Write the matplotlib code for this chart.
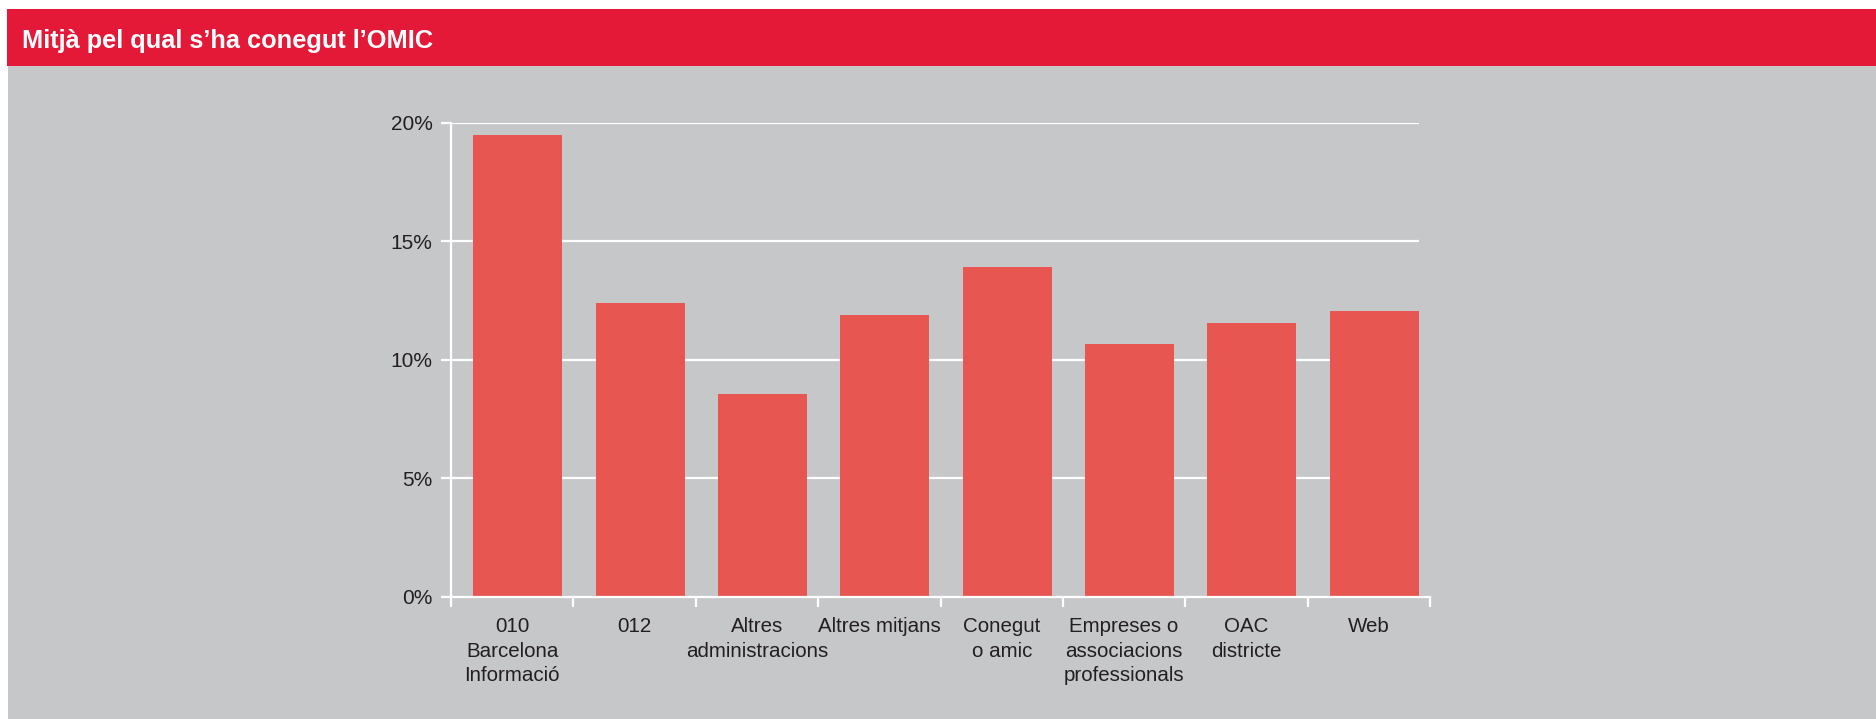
import matplotlib
matplotlib.use("Agg")
import matplotlib.pyplot as plt
from matplotlib.patches import Rectangle
import numpy as np

plt.rcParams['font.family'] = ['Liberation Sans', 'DejaVu Sans']

# ---- data ----
title = "Mitjà pel qual s’ha conegut l’OMIC"
categories = ["010\nBarcelona\nInformació", "012", "Altres\nadministracions",
              "Altres mitjans", "Conegut\no amic", "Empreses o\nassociacions\nprofessionals",
              "OAC\ndistricte", "Web"]
values = [19.5, 12.4, 8.55, 11.9, 13.9, 10.65, 11.55, 12.05]
yticks = [0, 5, 10, 15, 20]
ytick_labels = ["0%", "5%", "10%", "15%", "20%"]

# ---- style ----
W, H = 1876, 719
DPI = 100
BAR = "#E85652"
GRAY = "#C6C7C9"
RED = "#E31937"
TXT = "#231F20"
WHITE = "#FFFFFF"

fig = plt.figure(figsize=(W / DPI, H / DPI), dpi=DPI, facecolor="white")

def fx(px):
    return px / W

def fy(py):
    return 1 - py / H

# background axes for panel and title bar
bg = fig.add_axes([0, 0, 1, 1], zorder=0)
bg.set_xlim(0, 1)
bg.set_ylim(0, 1)
bg.axis("off")
bg.add_patch(Rectangle((fx(8), 0), 1 - fx(8), fy(66), facecolor=GRAY, edgecolor="none"))
bg.add_patch(Rectangle((fx(7), fy(66)), 1 - fx(7), fy(9) - fy(66), facecolor=RED, edgecolor="none"))
bg.text(fx(22), fy(48), title, color="white", fontsize=18.3, fontweight="bold",
        ha="left", va="baseline")

left, right = 451, 1430
top, bottom = 122.7, 596.7
ax = fig.add_axes([fx(left), fy(bottom), fx(right) - fx(left), fy(top) - fy(bottom)], zorder=2)
ax.set_facecolor("none")

n = len(values)
x = np.arange(n)
shift = 0.045
width = 0.727
ax.bar(x + shift, values, width=width, color=BAR, zorder=3)

ax.set_xlim(-0.5, n - 0.5)
ax.set_ylim(0, 20)

# gridlines
ax.hlines(yticks[1:], -0.5, n - 1 + shift + width / 2, colors=WHITE, linewidth=1.6, zorder=1)

# spines
for s in ["top", "right"]:
    ax.spines[s].set_visible(False)
for s in ["left", "bottom"]:
    ax.spines[s].set_color(WHITE)
    ax.spines[s].set_linewidth(1.6)
    ax.spines[s].set_zorder(4)

ax.set_yticks(yticks)
ax.set_yticklabels(ytick_labels)
ax.tick_params(axis="y", direction="out", length=7.2, width=1.6, color=WHITE,
               labelsize=15, labelcolor=TXT, pad=6)

ax.set_xticks(x)
ax.set_xticklabels(categories, linespacing=1.38)
ax.set_xticks(np.arange(n + 1) - 0.5, minor=True)
ax.tick_params(axis="x", which="major", length=0, labelsize=14.8, labelcolor=TXT, pad=14.5)
ax.tick_params(axis="x", which="minor", direction="out", length=7.2, width=1.6, color=WHITE)

fig.savefig("out.png", dpi=DPI, facecolor="white")
